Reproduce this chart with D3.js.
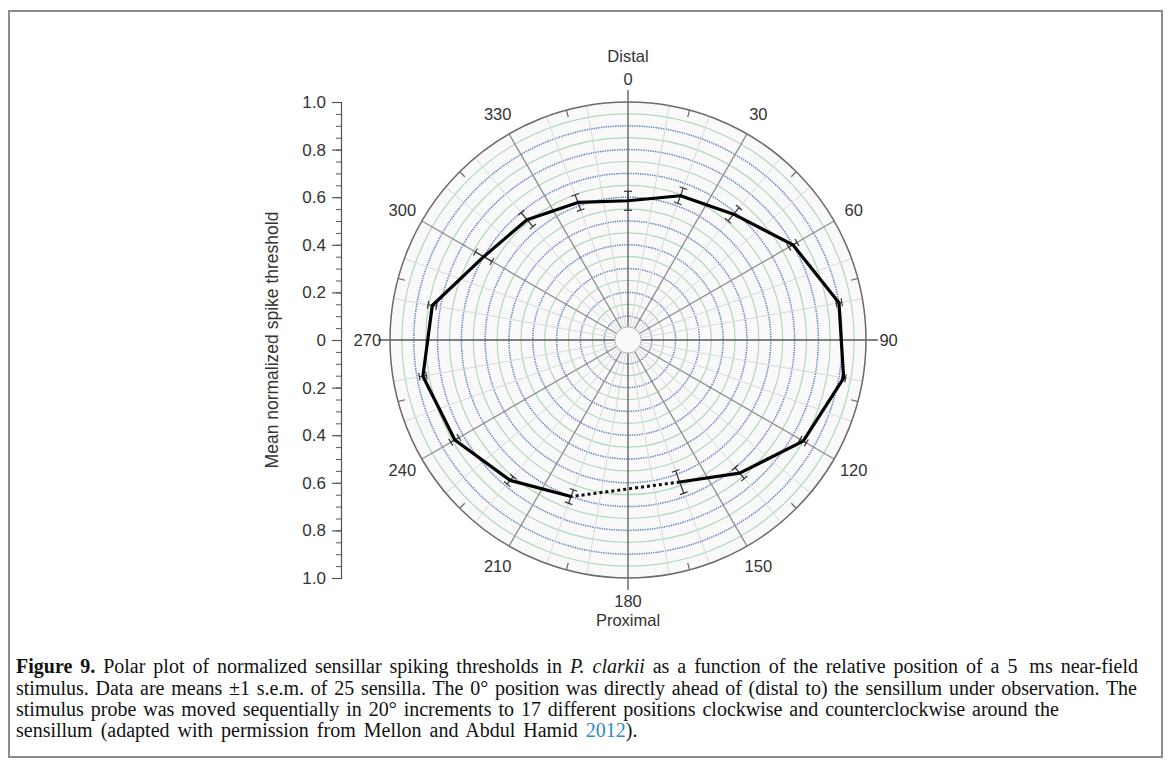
<!DOCTYPE html>
<html>
<head>
<meta charset="utf-8">
<script src="https://cdn.jsdelivr.net/npm/d3@7"></script>
<style>
  body { margin: 0; background: #fff; }
  svg { display: block; }
</style>
</head>
<body>
<svg id="chart" width="1171" height="767"></svg>
<script>
// Stimulus positions (degrees, clockwise from distal) and normalized thresholds
const angles = [0, 20, 40, 60, 80, 100, 120, 140, 160, 200, 220, 240, 260, 280, 300, 320, 340];
const means  = [0.585, 0.645, 0.69, 0.80, 0.90, 0.92, 0.85, 0.73, 0.635, 0.70, 0.77, 0.84, 0.875, 0.835, 0.70, 0.66, 0.615];
const sems   = [0.040, 0.034, 0.036, 0.020, 0.012, 0.008, 0.015, 0.030, 0.050, 0.030, 0.020, 0.020, 0.015, 0.018, 0.040, 0.038, 0.034];

// Angular tick labels and radial axis ticks
const angleLabels = [0, 30, 60, 90, 120, 150, 180, 210, 240, 270, 300, 330];
const radialTicks = [-1, -0.8, -0.6, -0.4, -0.2, 0, 0.2, 0.4, 0.6, 0.8, 1];

// Caption, one array of [text, style] runs per line
const captionLines = [
  [["Figure 9.", "b"], [" Polar plot of normalized sensillar spiking thresholds in ", ""], ["P. clarkii", "i"], [" as a function of the relative position of a 5\u2009 ms near-field", ""]],
  [["stimulus. Data are means \u00b11 s.e.m. of 25 sensilla. The 0\u00b0 position was directly ahead of (distal to) the sensillum under observation. The", ""]],
  [["stimulus probe was moved sequentially in 20\u00b0 increments to 17 different positions clockwise and counterclockwise around the", ""]],
  [["sensillum (adapted with permission from Mellon and Abdul Hamid ", ""], ["2012", "link"], [").", ""]]
];
const captionWidths = [1122, 1121, 1043, 683];

const svg = d3.select("#chart");
const cx = 628, cy = 340, R = 238;
const sansFont = "'Liberation Sans', Arial, sans-serif";

// Figure frame
svg.append("rect").attr("x", 9).attr("y", 11).attr("width", 1153).attr("height", 746)
  .attr("fill", "#fff").attr("stroke", "#8c8c8c").attr("stroke-width", 2);

const r = d3.scaleLinear().domain([0, 1]).range([0, R]);
const rad = a => a * Math.PI / 180;
const pt = (a, v) => [cx + r(v) * Math.sin(rad(a)), cy - r(v) * Math.cos(rad(a))];

const g = svg.append("g");

// Plot disc background
g.append("circle").attr("cx", cx).attr("cy", cy).attr("r", R).attr("fill", "#f9f9f9");

// Concentric rings: green at odd multiples of 0.05, blue dotted at multiples of 0.1
const ringVals = d3.range(1, 20).map(k => k * 0.05);
g.selectAll("circle.ring").data(ringVals).join("circle")
  .attr("class", "ring")
  .attr("cx", cx).attr("cy", cy).attr("r", d => r(d))
  .attr("fill", "none")
  .attr("stroke", (d, i) => (i % 2 === 0) ? "#b0d8bb" : "#6484c6")
  .attr("stroke-width", (d, i) => (i % 2 === 0) ? 1.2 : 1.5)
  .attr("stroke-dasharray", (d, i) => (i % 2 === 0) ? null : "1.4,1");

// Spokes every 10 degrees, darker at 30 degree steps; cardinal spokes run past the rim
const spokeAngles = d3.range(0, 360, 10);
const spokeEnd = d => d % 90 === 0 ? 1.05 : 1;
g.selectAll("line.spoke").data(spokeAngles).join("line")
  .attr("class", "spoke")
  .attr("x1", d => pt(d, 0.055)[0]).attr("y1", d => pt(d, 0.055)[1])
  .attr("x2", d => pt(d, spokeEnd(d))[0])
  .attr("y2", d => pt(d, spokeEnd(d))[1])
  .attr("stroke", d => d % 90 === 0 ? "#5a5a5a" : (d % 30 === 0 ? "#8e8e8e" : "#d9d9d9"))
  .attr("stroke-width", d => d % 30 === 0 ? 1.3 : 1);

// Inner hub circle
g.append("circle").attr("cx", cx).attr("cy", cy).attr("r", r(0.055))
  .attr("fill", "#fafafa").attr("stroke", "#b8b8b8").attr("stroke-width", 1);

// Outer boundary circle and minor ticks at 15 degree offsets
g.append("circle").attr("cx", cx).attr("cy", cy).attr("r", R)
  .attr("fill", "none").attr("stroke", "#6a6a6a").attr("stroke-width", 1.5);
const minorTickAngles = d3.range(15, 360, 30);
g.selectAll("line.otick").data(minorTickAngles).join("line")
  .attr("class", "otick")
  .attr("x1", d => pt(d, 1)[0]).attr("y1", d => pt(d, 1)[1])
  .attr("x2", d => pt(d, 0.97)[0]).attr("y2", d => pt(d, 0.97)[1])
  .attr("stroke", "#6a6a6a").attr("stroke-width", 1.2);

// Angle labels
g.selectAll("text.alab").data(angleLabels).join("text")
  .attr("class", "alab")
  .attr("x", d => pt(d, 1.095)[0]).attr("y", d => pt(d, 1.095)[1])
  .attr("dy", "0.36em")
  .attr("text-anchor", "middle")
  .attr("font-family", sansFont).attr("font-size", 16.5).attr("fill", "#333")
  .text(d => d);

g.append("text").attr("x", cx).attr("y", 56).attr("dy", "0.36em")
  .attr("text-anchor", "middle").attr("font-family", sansFont).attr("font-size", 16.5)
  .attr("fill", "#333").text("Distal");
g.append("text").attr("x", cx).attr("y", 620).attr("dy", "0.36em")
  .attr("text-anchor", "middle").attr("font-family", sansFont).attr("font-size", 16.5)
  .attr("fill", "#333").text("Proximal");

// Error bars (radial, with tangential caps)
const capHalf = 4;
const eb = g.append("g").attr("stroke", "#333").attr("stroke-width", 1.2).attr("fill", "none");
angles.forEach((a, i) => {
  const lo = pt(a, means[i] - sems[i]), hi = pt(a, means[i] + sems[i]);
  const tx = Math.cos(rad(a)), ty = Math.sin(rad(a));
  eb.append("line").attr("x1", lo[0]).attr("y1", lo[1]).attr("x2", hi[0]).attr("y2", hi[1]);
  [lo, hi].forEach(p => {
    eb.append("line")
      .attr("x1", p[0] - capHalf * tx).attr("y1", p[1] - capHalf * ty)
      .attr("x2", p[0] + capHalf * tx).attr("y2", p[1] + capHalf * ty);
  });
});

// Mean threshold trace: solid from 200 round to 160, dotted across the untested 180 position
const pts = angles.map((a, i) => pt(a, means[i]));
const order = d3.range(9, 17).concat(d3.range(0, 9));
const line = d3.line();
g.append("path").attr("d", line(order.map(i => pts[i])))
  .attr("fill", "none").attr("stroke", "#000").attr("stroke-width", 3.2)
  .attr("stroke-linejoin", "round");
g.append("path").attr("d", line([pts[8], pts[9]]))
  .attr("fill", "none").attr("stroke", "#111").attr("stroke-width", 3)
  .attr("stroke-dasharray", "3,3");

// Left radial axis: 1 at top and bottom, 0 at the centre
const y = d3.scaleLinear().domain([-1, 1]).range([cy + R, cy - R]);
const axX = 341;
const fmt = v => v === 0 ? "0" : Math.abs(v).toFixed(1);
const axMinor = svg.append("g").attr("transform", `translate(${axX},0)`)
  .call(d3.axisLeft(y).tickValues(d3.range(-20, 21).map(k => k / 20)).tickSize(5).tickFormat(""));
axMinor.select(".domain").attr("stroke", "#555").attr("stroke-width", 1.2);
axMinor.selectAll(".tick line").attr("stroke", "#555");
const axMajor = svg.append("g").attr("transform", `translate(${axX},0)`)
  .call(d3.axisLeft(y).tickValues(radialTicks).tickSize(9).tickPadding(6).tickFormat(fmt));
axMajor.select(".domain").remove();
axMajor.selectAll(".tick line").attr("stroke", "#555").attr("stroke-width", 1.2);
axMajor.selectAll(".tick text").attr("font-family", sansFont).attr("font-size", 17).attr("fill", "#333");

svg.append("text")
  .attr("transform", `translate(272,${cy}) rotate(-90)`)
  .attr("dy", "0.36em")
  .attr("text-anchor", "middle").attr("font-family", sansFont).attr("font-size", 17.5)
  .attr("fill", "#333").text("Mean normalized spike threshold");

// Caption, justified by widening the word gaps toward each line's measure
const baselines = [673, 695, 716, 737];
captionLines.forEach((runs, li) => {
  const t = svg.append("text").attr("x", 16).attr("y", baselines[li])
    .attr("font-family", "'Liberation Serif', 'Times New Roman', serif")
    .attr("font-size", 20).attr("fill", "#111");
  runs.forEach(([txt, st]) => {
    const s = t.append("tspan").text(txt);
    if (st === "b") s.attr("font-weight", "bold");
    if (st === "i") s.attr("font-style", "italic");
    if (st === "link") s.attr("fill", "#2b8cc4");
  });
  const natural = t.node().getComputedTextLength();
  const gaps = runs.map(d => d[0]).join("").split(" ").length - 1;
  const extra = (captionWidths[li] - natural) / gaps;
  if (extra > 0) t.attr("word-spacing", Math.min(extra, 3));
  else t.attr("textLength", captionWidths[li]).attr("lengthAdjust", "spacing");
});
</script>
</body>
</html>
